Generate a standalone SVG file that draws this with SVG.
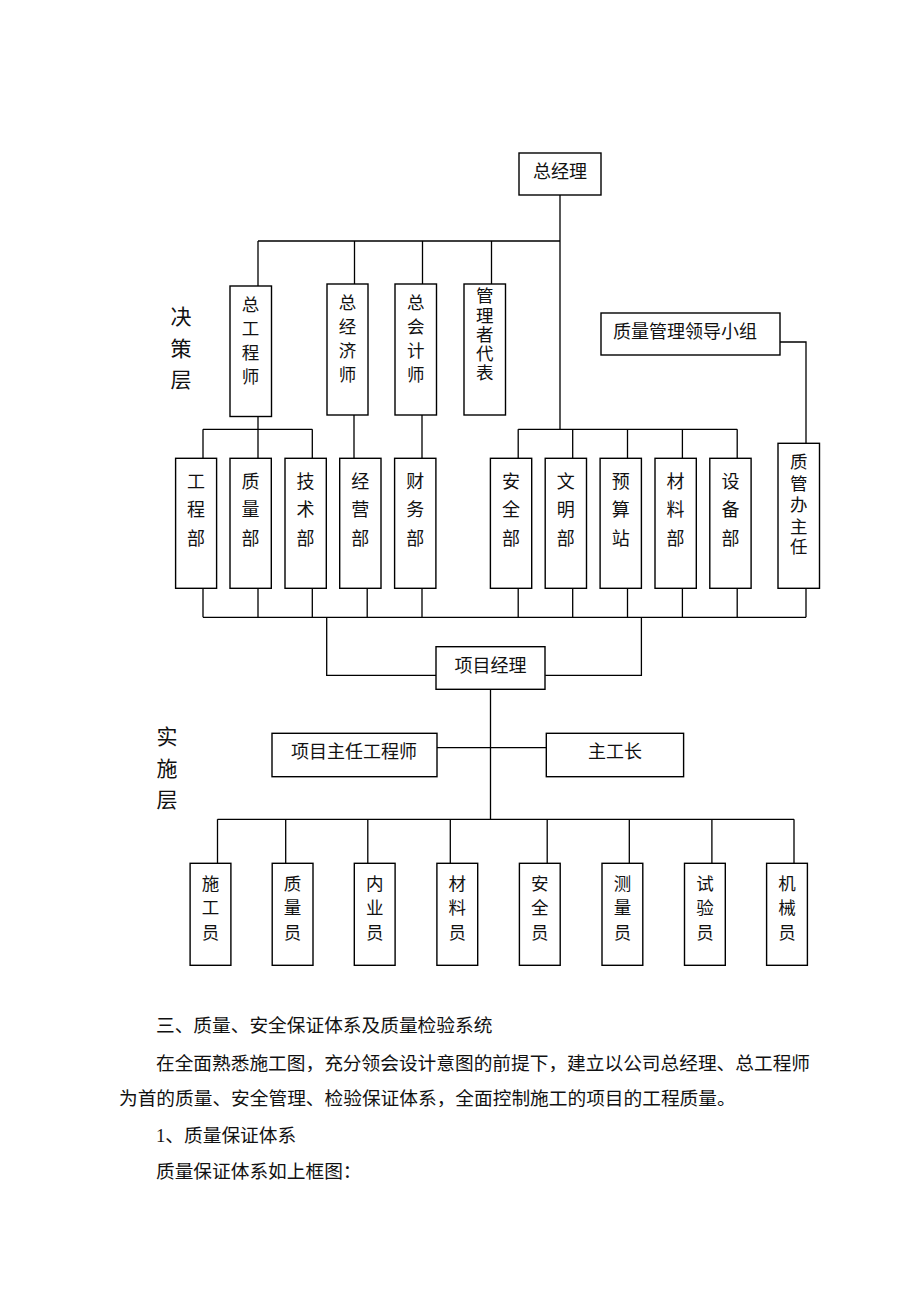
<svg xmlns="http://www.w3.org/2000/svg" width="920" height="1302" viewBox="0 0 920 1302">
<style>
.b{fill:#fff;stroke:#000;stroke-width:1.4}
.c{fill:none;stroke:#000;stroke-width:1.3}
text{font-family:"Liberation Serif","Noto Sans CJK SC",serif;fill:#111;dominant-baseline:central}
.t{font-size:18px;text-anchor:middle}
.v{font-size:17.5px;text-anchor:middle}
.l{font-size:21px;text-anchor:middle}
.p{font-size:18.7px}
</style>
<rect width="920" height="1302" fill="#fff"/>
<g id="connectors">
<path class="c" d="M560 195V429.3M258 241H560M258 241V286M354.5 241V284M422.5 241V284M491.5 241V284"/>
<path class="c" d="M780 342H806V443.3"/>
<path class="c" d="M258 416.5V429.3M203 429.3H312.3M203 429.3V458.3M258 429.3V458.3M312.3 429.3V458.3M354 415V458.3M422 415V458.3"/>
<path class="c" d="M518.2 429.3H737.2M518.2 429.3V458.3M572.7 429.3V458.3M627.5 429.3V458.3M682.4 429.3V458.3M737.2 429.3V458.3"/>
<path class="c" d="M203 588.3V617.3M258 588.3V617.3M312.3 588.3V617.3M367.2 588.3V617.3M422 588.3V617.3M518.2 588.3V617.3M572.7 588.3V617.3M627.5 588.3V617.3M682.4 588.3V617.3M737.2 588.3V617.3M806 588.3V617.3M203 617.3H806"/>
<path class="c" d="M326.7 617.3V675.3H436M641.4 617.3V675.3H545.2"/>
<path class="c" d="M490.5 689.3V819.3M437 747.7H546.3M217.5 819.3H794"/>
<path class="c" d="M217.5 819.3V863.3M285.7 819.3V863.3M367.8 819.3V863.3M450.3 819.3V863.3M547.2 819.3V863.3M629.3 819.3V863.3M711.9 819.3V863.3M794 819.3V863.3"/>
</g>
<g id="n-zjl"><rect class="b" x="519" y="153" width="82" height="42"/><text class="t" x="560" y="172">总经理</text></g>
<g id="n-zgcs"><rect class="b" x="230" y="286" width="41.5" height="130.5"/><text class="v"><tspan x="250.5" y="305">总</tspan><tspan x="250.5" y="329">工</tspan><tspan x="250.5" y="353">程</tspan><tspan x="250.5" y="377">师</tspan></text></g>
<g id="n-zjjs"><rect class="b" x="327" y="284" width="41" height="131"/><text class="v"><tspan x="347.5" y="303">总</tspan><tspan x="347.5" y="327">经</tspan><tspan x="347.5" y="351">济</tspan><tspan x="347.5" y="375">师</tspan></text></g>
<g id="n-zkjs"><rect class="b" x="395" y="284" width="41.5" height="131"/><text class="v"><tspan x="415.8" y="303">总</tspan><tspan x="415.8" y="327">会</tspan><tspan x="415.8" y="351">计</tspan><tspan x="415.8" y="375">师</tspan></text></g>
<g id="n-glzdb"><rect class="b" x="464" y="284" width="41.5" height="131"/><text class="v"><tspan x="484.8" y="296">管</tspan><tspan x="484.8" y="315.5">理</tspan><tspan x="484.8" y="335">者</tspan><tspan x="484.8" y="354">代</tspan><tspan x="484.8" y="373">表</tspan></text></g>
<g id="n-zlgl"><rect class="b" x="601" y="313" width="179" height="42"/><text class="t" x="685" y="332">质量管理领导小组</text></g>
<g id="label-jc"><text class="l"><tspan x="181" y="317">决</tspan><tspan x="181" y="348.5">策</tspan><tspan x="181" y="380">层</tspan></text></g>
<g id="n-gcb"><rect class="b" x="175.6" y="458.3" width="41" height="130"/><text class="t"><tspan x="196.1" y="482">工</tspan><tspan x="196.1" y="510">程</tspan><tspan x="196.1" y="538.5">部</tspan></text></g>
<g id="n-zlb"><rect class="b" x="230" y="458.3" width="41.3" height="130"/><text class="t"><tspan x="250.6" y="482">质</tspan><tspan x="250.6" y="510">量</tspan><tspan x="250.6" y="538.5">部</tspan></text></g>
<g id="n-jsb"><rect class="b" x="285" y="458.3" width="41.3" height="130"/><text class="t"><tspan x="305.6" y="482">技</tspan><tspan x="305.6" y="510">术</tspan><tspan x="305.6" y="538.5">部</tspan></text></g>
<g id="n-jyb"><rect class="b" x="339.7" y="458.3" width="41.3" height="130"/><text class="t"><tspan x="360.3" y="482">经</tspan><tspan x="360.3" y="510">营</tspan><tspan x="360.3" y="538.5">部</tspan></text></g>
<g id="n-cwb"><rect class="b" x="394.6" y="458.3" width="41.3" height="130"/><text class="t"><tspan x="415.2" y="482">财</tspan><tspan x="415.2" y="510">务</tspan><tspan x="415.2" y="538.5">部</tspan></text></g>
<g id="n-aqb"><rect class="b" x="490.4" y="458.3" width="41.3" height="130"/><text class="t"><tspan x="511" y="482">安</tspan><tspan x="511" y="510">全</tspan><tspan x="511" y="538.5">部</tspan></text></g>
<g id="n-wmb"><rect class="b" x="545.2" y="458.3" width="41.3" height="130"/><text class="t"><tspan x="565.8" y="482">文</tspan><tspan x="565.8" y="510">明</tspan><tspan x="565.8" y="538.5">部</tspan></text></g>
<g id="n-ysz"><rect class="b" x="600.1" y="458.3" width="41.3" height="130"/><text class="t"><tspan x="620.7" y="482">预</tspan><tspan x="620.7" y="510">算</tspan><tspan x="620.7" y="538.5">站</tspan></text></g>
<g id="n-clb"><rect class="b" x="655" y="458.3" width="41.3" height="130"/><text class="t"><tspan x="675.6" y="482">材</tspan><tspan x="675.6" y="510">料</tspan><tspan x="675.6" y="538.5">部</tspan></text></g>
<g id="n-sbb"><rect class="b" x="709.8" y="458.3" width="41.3" height="130"/><text class="t"><tspan x="730.4" y="482">设</tspan><tspan x="730.4" y="510">备</tspan><tspan x="730.4" y="538.5">部</tspan></text></g>
<g id="n-zgbzr"><rect class="b" x="778" y="443.3" width="41.5" height="145"/><text class="v"><tspan x="798.8" y="461.5">质</tspan><tspan x="798.8" y="483.5">管</tspan><tspan x="798.8" y="505">办</tspan><tspan x="798.8" y="526.5">主</tspan><tspan x="798.8" y="547">任</tspan></text></g>
<g id="n-xmjl"><rect class="b" x="436" y="646.7" width="109" height="42.6"/><text class="t" x="490.5" y="666">项目经理</text></g>
<g id="label-ss"><text class="l"><tspan x="167" y="737">实</tspan><tspan x="167" y="768.5">施</tspan><tspan x="167" y="800">层</tspan></text></g>
<g id="n-xmzr"><rect class="b" x="272" y="733.3" width="165" height="43.4"/><text class="t" x="354" y="752">项目主任工程师</text></g>
<g id="n-zgz"><rect class="b" x="546.3" y="733.3" width="137.3" height="43.4"/><text class="t" x="615" y="752">主工长</text></g>
<g id="n-sgy"><rect class="b" x="190.1" y="863.3" width="40.8" height="102"/><text class="v"><tspan x="210.5" y="883.5">施</tspan><tspan x="210.5" y="908">工</tspan><tspan x="210.5" y="932.5">员</tspan></text></g>
<g id="n-zly"><rect class="b" x="272.2" y="863.3" width="40.8" height="102"/><text class="v"><tspan x="292.6" y="883.5">质</tspan><tspan x="292.6" y="908">量</tspan><tspan x="292.6" y="932.5">员</tspan></text></g>
<g id="n-nyy"><rect class="b" x="354.3" y="863.3" width="40.8" height="102"/><text class="v"><tspan x="374.7" y="883.5">内</tspan><tspan x="374.7" y="908">业</tspan><tspan x="374.7" y="932.5">员</tspan></text></g>
<g id="n-cly"><rect class="b" x="436.9" y="863.3" width="40.8" height="102"/><text class="v"><tspan x="457.3" y="883.5">材</tspan><tspan x="457.3" y="908">料</tspan><tspan x="457.3" y="932.5">员</tspan></text></g>
<g id="n-aqy"><rect class="b" x="519.4" y="863.3" width="40.8" height="102"/><text class="v"><tspan x="539.8" y="883.5">安</tspan><tspan x="539.8" y="908">全</tspan><tspan x="539.8" y="932.5">员</tspan></text></g>
<g id="n-cly2"><rect class="b" x="602" y="863.3" width="40.8" height="102"/><text class="v"><tspan x="622.4" y="883.5">测</tspan><tspan x="622.4" y="908">量</tspan><tspan x="622.4" y="932.5">员</tspan></text></g>
<g id="n-syy"><rect class="b" x="684.5" y="863.3" width="40.8" height="102"/><text class="v"><tspan x="704.9" y="883.5">试</tspan><tspan x="704.9" y="908">验</tspan><tspan x="704.9" y="932.5">员</tspan></text></g>
<g id="n-jxy"><rect class="b" x="766.6" y="863.3" width="40.8" height="102"/><text class="v"><tspan x="787" y="883.5">机</tspan><tspan x="787" y="908">械</tspan><tspan x="787" y="932.5">员</tspan></text></g>
<g id="body-text">
<text class="p" x="156" y="1025">三、质量、安全保证体系及质量检验系统</text>
<text class="p" x="156" y="1063">在全面熟悉施工图，充分领会设计意图的前提下，建立以公司总经理、总工程师</text>
<text class="p" x="119" y="1098.5">为首的质量、安全管理、检验保证体系，全面控制施工的项目的工程质量。</text>
<text class="p" x="156" y="1135">1、质量保证体系</text>
<text class="p" x="156" y="1171.5">质量保证体系如上框图：</text>
</g>
</svg>
